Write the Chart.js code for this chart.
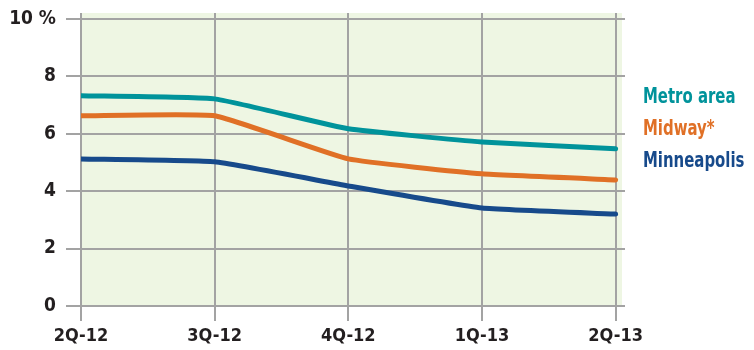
<!DOCTYPE html>
<html lang="en">
<head>
    <meta charset="UTF-8">
    <title>Vacancy rate</title>
    <style>
        html, body { margin: 0; padding: 0; background: #fff; }
        .chart-container { width: 754px; height: 350px; position: relative; }
    </style>
</head>
<body>
    <div class="chart-container">
        <canvas id="rateChart"></canvas>
    </div>

    <script src="https://cdn.jsdelivr.net/npm/chart.js"></script>
    <script>
        // Data
        const quarters = ['2Q-12', '3Q-12', '4Q-12', '1Q-13', '2Q-13'];
        const metroArea = [7.32, 7.21, 6.17, 5.71, 5.47];
        const midway = [6.62, 6.62, 5.12, 4.60, 4.39];
        const minneapolis = [5.12, 5.02, 4.18, 3.41, 3.20];
        const yTicks = [0, 2, 4, 6, 8, 10];

        const FONT = '"DejaVu Sans Condensed", "Liberation Sans Narrow", sans-serif';

        function toPoints(values) {
            return values.map((v, i) => ({ x: i, y: v }));
        }

        // Green plot background
        const plotBackground = {
            id: 'plotBackground',
            beforeDraw(chart) {
                const { ctx, chartArea } = chart;
                ctx.save();
                ctx.fillStyle = '#eef6e3';
                ctx.fillRect(chartArea.left, chartArea.top, chartArea.right - chartArea.left - 3, chartArea.bottom - chartArea.top);
                ctx.restore();
            }
        };

        // Labels on the right, next to the lines (narrowed a bit to look condensed)
        const sideLabels = {
            id: 'sideLabels',
            afterDraw(chart) {
                const ctx = chart.ctx;
                const baselines = [103, 135, 167];
                const squeeze = 0.79;
                ctx.save();
                ctx.font = 'bold 21px ' + FONT;
                ctx.textBaseline = 'alphabetic';
                ctx.scale(squeeze, 1);
                chart.data.datasets.forEach((ds, i) => {
                    ctx.fillStyle = ds.borderColor;
                    ctx.fillText(ds.label, 643 / squeeze, baselines[i]);
                });
                ctx.restore();
            }
        };

        const ctx = document.getElementById('rateChart');
        new Chart(ctx, {
            type: 'line',
            data: {
                datasets: [
                    {
                        label: 'Metro area',
                        data: toPoints(metroArea),
                        borderColor: '#00939b',
                        borderWidth: 5,
                        tension: 0.12,
                        pointRadius: 0,
                        borderCapStyle: 'round'
                    },
                    {
                        label: 'Midway*',
                        data: toPoints(midway),
                        borderColor: '#e07026',
                        borderWidth: 5,
                        tension: 0.12,
                        pointRadius: 0,
                        borderCapStyle: 'round'
                    },
                    {
                        label: 'Minneapolis',
                        data: toPoints(minneapolis),
                        borderColor: '#174a8b',
                        borderWidth: 5,
                        tension: 0.12,
                        pointRadius: 0,
                        borderCapStyle: 'round'
                    }
                ]
            },
            options: {
                responsive: true,
                maintainAspectRatio: false,
                animation: false,
                layout: {
                    padding: { top: 13, right: 129, left: 0, bottom: 0 }
                },
                plugins: {
                    legend: { display: false },
                    tooltip: { enabled: false }
                },
                scales: {
                    x: {
                        type: 'linear',
                        min: 0,
                        max: 4.07,
                        afterFit(scale) {
                            scale.height = 44;
                            scale.paddingLeft = 0;
                            scale.paddingRight = 0;
                        },
                        afterBuildTicks(scale) {
                            scale.ticks = quarters.map((q, i) => ({ value: i }));
                        },
                        grid: {
                            color: '#a3a3a3',
                            lineWidth: 2,
                            tickLength: 15,
                            drawOnChartArea: true
                        },
                        border: { display: false },
                        ticks: {
                            autoSkip: false,
                            maxRotation: 0,
                            padding: 5,
                            color: '#231f20',
                            font: { family: FONT, size: 18, weight: 'bold' },
                            callback: (v) => quarters[v]
                        }
                    },
                    y: {
                        min: 0,
                        max: 10.2,
                        afterFit(scale) {
                            scale.width = 81;
                            scale.paddingTop = 0;
                            scale.paddingBottom = 0;
                        },
                        afterBuildTicks(scale) {
                            scale.ticks = yTicks.map(v => ({ value: v }));
                        },
                        grid: {
                            color: '#a3a3a3',
                            lineWidth: 2,
                            tickLength: 15
                        },
                        border: { display: false },
                        ticks: {
                            padding: 10,
                            color: '#231f20',
                            font: { family: FONT, size: 19, weight: 'bold' },
                            callback: (v) => v === 10 ? '10 %' : v
                        }
                    }
                }
            },
            plugins: [plotBackground, sideLabels]
        });
    </script>
</body>
</html>
